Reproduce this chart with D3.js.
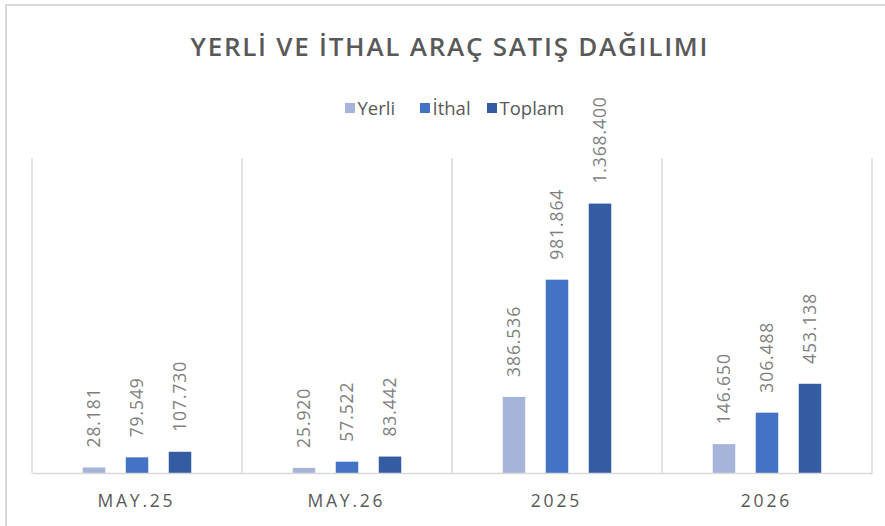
<!DOCTYPE html>
<html><head><meta charset="utf-8">
<script src="https://cdn.jsdelivr.net/npm/d3@7"></script>
<style>body{margin:0;background:#fff}svg{display:block}</style>
</head><body>
<script>
const title = "YERLİ VE İTHAL ARAÇ SATIŞ DAĞILIMI";
const categories = ["MAY.25", "MAY.26", "2025", "2026"];
const seriesNames = ["Yerli", "İthal", "Toplam"];
const yerli  = [28181, 25920, 386536, 146650];
const ithal  = [79549, 57522, 981864, 306488];
const toplam = [107730, 83442, 1368400, 453138];
const seriesColors = ["#a7b4da", "#4472c4", "#345ca2"];
const yMax = 1600000;

const W = 885, H = 526;
const svg = d3.select("body").append("svg").attr("width", W).attr("height", H);
const font = "'Open Sans', sans-serif";

// frame (top + left)
svg.append("path").attr("d", `M6,${H} L6,5 L${W},5`).attr("fill","none")
  .attr("stroke","#d9d9d9").attr("stroke-width",2);

// title
const t = svg.append("text").attr("x", 449).attr("y", 56).attr("text-anchor","middle")
  .attr("font-family", font).attr("font-weight", 600).attr("font-size", 26)
  .attr("fill", "#595959").text(title);
{
  const nat = t.node().getComputedTextLength();
  const ls = (517 - nat) / (title.length - 1);
  t.attr("letter-spacing", ls).attr("x", 449 + ls/2);
}

// legend
const legendX = [345, 420, 487];
seriesNames.forEach((s, i) => {
  svg.append("rect").attr("x", legendX[i]).attr("y", 103).attr("width", 10).attr("height", 10)
    .attr("fill", seriesColors[i]);
  svg.append("text").attr("x", legendX[i] + 12.5).attr("y", 114.5)
    .attr("font-family", font).attr("font-size", 18.5).attr("fill", "#595959").text(s);
});

const plotL = 32, plotR = 872, plotT = 158, plotB = 473;
const x0 = d3.scaleBand().domain(categories).range([plotL, plotR]).padding(0);
const x1 = d3.scaleBand().domain(seriesNames).range([50.75, 159.25]).paddingInner(0.477).paddingOuter(0);
const y = d3.scaleLinear().domain([0, yMax]).range([plotB, plotT]);

// vertical separators
const seps = categories.map(c => x0(c)).concat([plotR]);
svg.selectAll("line.sep").data(seps).join("line").attr("class","sep")
  .attr("x1", d => d).attr("x2", d => d).attr("y1", plotT).attr("y2", plotB)
  .attr("stroke", "#d9d9d9").attr("stroke-width", 1.5);

const values = [yerli, ithal, toplam];
const data = [];
categories.forEach((c, ci) => seriesNames.forEach((s, si) => data.push({c, s, si, v: values[si][ci]})));

svg.selectAll("rect.bar").data(data).join("rect").attr("class","bar")
  .attr("x", d => x0(d.c) + x1(d.s)).attr("width", x1.bandwidth())
  .attr("y", d => y(d.v)).attr("height", d => plotB - y(d.v))
  .attr("fill", d => seriesColors[d.si]);

// baseline axis
const xAxis = d3.axisBottom(x0).tickSize(0).tickFormat(() => "");
const ax = svg.append("g").attr("transform", `translate(0,${plotB})`).call(xAxis);
ax.select(".domain").attr("stroke", "#d9d9d9").attr("stroke-width", 1.5);

// category labels
categories.forEach(c => {
  const tx = svg.append("text").attr("y", 507).attr("text-anchor","middle")
    .attr("font-family", font).attr("font-size", 17.5).attr("fill", "#595959").text(c);
  const ls = 2.8;
  tx.attr("letter-spacing", ls).attr("x", x0(c) + x0.bandwidth()/2 + ls/2 - 2);
});

// data labels
const fmt = v => d3.format(",")(v).replace(/,/g, ".");
svg.selectAll("text.lbl").data(data).join("text").attr("class","lbl")
  .attr("transform", d => `translate(${x0(d.c) + x1(d.s) + x1.bandwidth()/2 + 6},${y(d.v) - 20}) rotate(-90)`)
  .attr("font-family", font).attr("font-size", 17.5).attr("letter-spacing", 0.9)
  .attr("fill", "#7f7f7f").text(d => fmt(d.v));
</script>
</body></html>
